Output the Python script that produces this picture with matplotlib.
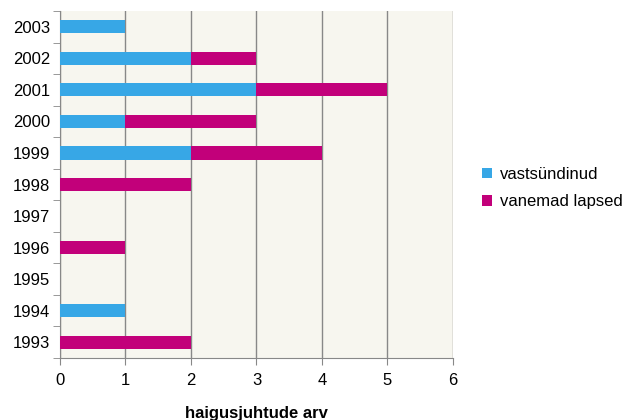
import matplotlib.pyplot as plt
import numpy as np

plt.rcParams['font.family'] = ['Liberation Sans', 'DejaVu Sans']

years = ['1993', '1994', '1995', '1996', '1997', '1998', '1999', '2000', '2001', '2002', '2003']
vastsyndinud = [0, 1, 0, 0, 0, 0, 2, 1, 3, 2, 1]
vanemad = [2, 0, 0, 1, 0, 2, 2, 2, 2, 1, 0]

c_blue = '#37A7E6'
c_mag = '#C2007A'

fig = plt.figure(figsize=(6.23, 4.2), dpi=100)
ax = fig.add_axes([0.0963, 0.1476, 0.6307, 0.8262])
ax.set_facecolor('#F7F6EF')

y = np.arange(len(years))
h = 0.42
ax.barh(y, vastsyndinud, height=h, color=c_blue, label='vastsündinud', zorder=3)
ax.barh(y, vanemad, height=h, left=vastsyndinud, color=c_mag, label='vanemad lapsed', zorder=3)

ax.set_xlim(0, 6)
ax.set_ylim(-0.5, len(years) - 0.5)
ax.set_xticks(range(7))
ax.set_yticks(y)
ax.set_yticklabels(years)
ax.set_yticks(np.arange(-0.5, len(years)), minor=True)
ax.tick_params(axis='y', which='major', length=0, labelsize=12, pad=7)
ax.tick_params(axis='y', which='minor', length=5, color='#888888')
ax.tick_params(axis='x', length=5, color='#888888', labelsize=12, pad=6)
ax.grid(axis='x', color='#888888', linewidth=1, zorder=1)

for s in ['top', 'right']:
    ax.spines[s].set_visible(False)
for s in ['left', 'bottom']:
    ax.spines[s].set_color('#888888')

ax.set_xlabel('haigusjuhtude arv', fontsize=12, fontweight='bold', labelpad=13)

fig.legend(loc='center left', bbox_to_anchor=(0.774, 0.552), frameon=False,
           fontsize=12, handlelength=0.6, handleheight=0.6, handletextpad=0.45,
           labelspacing=0.75, borderaxespad=0, borderpad=0)

fig.savefig('out.png', dpi=100)
